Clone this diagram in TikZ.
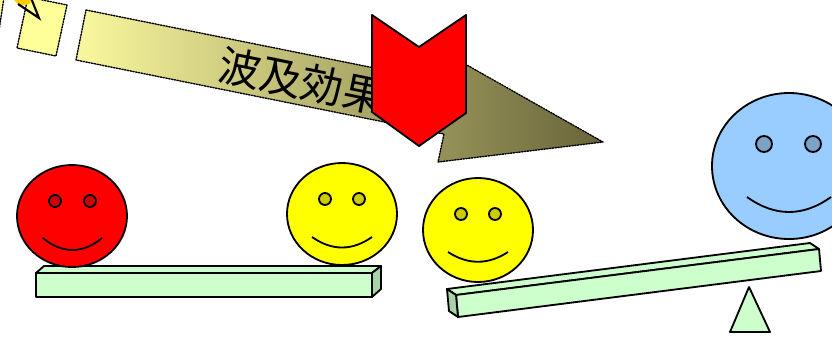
\documentclass[tikz,border=0pt]{standalone}
\usepackage{fontspec}
\usepackage{xcolor}
\usepackage{tikz}
\usepackage{tkz-euclide}
\newfontfamily\jpfont{Noto Sans CJK JP}
\definecolor{plank}{RGB}{204,255,204}
\definecolor{plankside}{RGB}{166,212,166}
\definecolor{faceblue}{RGB}{153,204,255}
\definecolor{faceyellow}{RGB}{255,255,0}
\definecolor{facered}{RGB}{255,0,0}
\definecolor{eyeblue}{RGB}{122,163,204}
\definecolor{eyeyellow}{RGB}{204,204,0}
\definecolor{eyered}{RGB}{204,0,0}
\definecolor{bandlight}{RGB}{250,248,158}
\definecolor{bandmid}{RGB}{205,200,120}
\definecolor{banddark}{RGB}{104,100,58}
\definecolor{piece}{RGB}{255,255,153}
\definecolor{gold}{RGB}{255,204,0}

\begin{document}
\begin{tikzpicture}[x=0.025cm,y=-0.025cm,
  face/.style={draw=black,line width=1.3pt},
  solid/.style={line width=1.3pt,line join=round},
  band/.style={draw=black,line width=1pt,dash pattern=on 1pt off 1pt}]
	\useasboundingbox (0,0) rectangle (832,338);
	\clip (0,0) rectangle (832,338);
	% pieces of the band coming in at the top left
	\tkzDefPoint(-40,-18){P1}
	\tkzDefPoint(5,-9){P2}
	\tkzDefPoint(-2,37){P3}
	\tkzDefPoint(-47,28){P4}
	\tkzDrawPolygon[band,fill=piece](P1,P2,P3,P4)
	\tkzDefPoint(28,-3){Q1}
	\tkzDefPoint(67,5){Q2}
	\tkzDefPoint(56,56){Q3}
	\tkzDefPoint(17,48){Q4}
	\tkzDrawPolygon[band,fill=piece](Q1,Q2,Q3,Q4)
	\fill[gold] (12,-2) -- (31,-2) -- (30,4) -- (20,6) -- cycle;
	\draw[line width=1.5pt] (18,4) -- (39,18) -- (31,-2);
	% the band arrow
	\tkzDefPoint(86,10){A}
	\tkzDefPoint(454,84){B}
	\tkzDefPoint(458,60){C}
	\tkzDefPoint(603,142){D}
	\tkzDefPoint(438,162){E}
	\tkzDefPoint(444,134){F}
	\tkzDefPoint(76,60){G}
	\tkzDrawPolygon[band,left color=bandlight,middle color=bandmid,right color=banddark](A,B,C,D,E,F,G)
	\node[rotate=-11.5,font=\jpfont\fontsize{30}{30}\selectfont] (T) at (302,81) {波及効果};
	% chevron
	\tkzDefPoint(372,15){V1}
	\tkzDefPoint(419,47){V2}
	\tkzDefPoint(466,15){V3}
	\tkzDefPoint(466,113){V4}
	\tkzDefPoint(419,146){V5}
	\tkzDefPoint(372,112){V6}
	\tkzDrawPolygon[solid,fill=facered](V1,V2,V3,V4,V5,V6)
	% left plank
	\tkzDefPoint(36,273){L1}
	\tkzDefPoint(372,273){L2}
	\tkzDefPoint(372,297){L3}
	\tkzDefPoint(36,297){L4}
	\tkzDefPoint(44,266){L5}
	\tkzDefPoint(381,266){L6}
	\tkzDefPoint(381,289){L7}
	\tkzDrawPolygon[solid,fill=plank](L1,L2,L3,L4)
	\tkzDrawPolygon[solid,fill=plank](L1,L5,L6,L2)
	\tkzDrawPolygon[solid,fill=plankside](L2,L6,L7,L3)
	% seesaw
	\tkzDefPoint(447,289){S1}
	\tkzDefPoint(810,243){S2}
	\tkzDefPoint(819,249){S3}
	\tkzDefPoint(456,295){S4}
	\tkzDefPoint(821,271){S5}
	\tkzDefPoint(458,317){S6}
	\tkzDefPoint(449,311){S7}
	\tkzDrawPolygon[solid,fill=plank](S1,S2,S3,S4)
	\tkzDrawPolygon[solid,fill=plank](S4,S3,S5,S6)
	\tkzDrawPolygon[solid,fill=plankside](S1,S4,S6,S7)
	\tkzDefPoint(749,287){K1}
	\tkzDefPoint(770,332){K2}
	\tkzDefPoint(730,332){K3}
	\tkzDrawPolygon[solid,fill=plank](K1,K2,K3)
	% faces
	\draw[face,fill=facered] (72,216) ellipse [x radius=55,y radius=51];
	\draw[face,fill=eyered] (55,201) circle [radius=6] (90,201) circle [radius=6];
	\draw[face] (43,238) .. controls (62,254) and (83,254) .. (102,238);
	\draw[face,fill=faceyellow] (342,214) ellipse [x radius=55,y radius=51];
	\draw[face,fill=eyeyellow] (325,199) circle [radius=6] (359,199) circle [radius=6];
	\draw[face] (312,237) .. controls (332,251) and (352,251) .. (372,237);
	\draw[face,fill=faceyellow] (478,230) ellipse [x radius=55,y radius=52];
	\draw[face,fill=eyeyellow] (461,214) circle [radius=6] (495,214) circle [radius=6];
	\draw[face] (448,252) .. controls (468,265) and (488,265) .. (508,252);
	\draw[face,fill=faceblue] (789,166) ellipse [x radius=77,y radius=73];
	\draw[face,fill=eyeblue] (764,144) circle [radius=8] (813,144) circle [radius=8];
	\draw[face] (747,197) .. controls (775,217) and (803,217) .. (831,197);
\end{tikzpicture}
\end{document}
